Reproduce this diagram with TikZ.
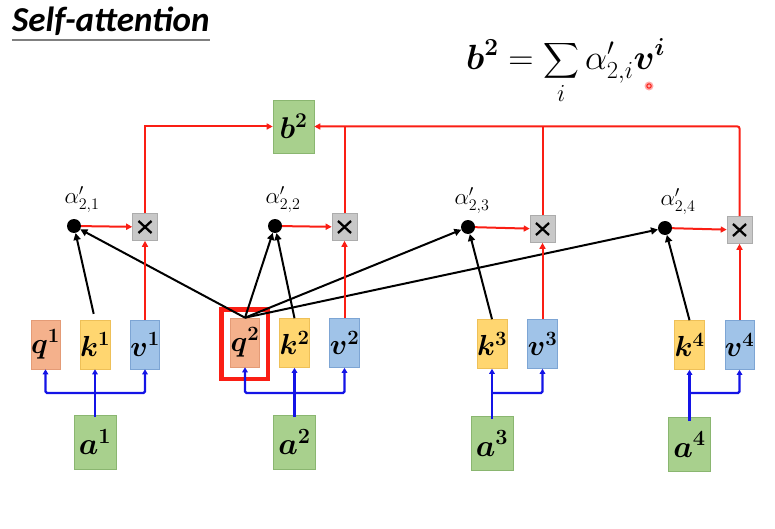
\RequirePackage{fix-cm}
\documentclass[tikz,border=0pt]{standalone}
\usepackage{fontspec}
\usepackage{amsmath,bm}
\usetikzlibrary{arrows.meta,calc}
\newfontfamily\titlefont{Carlito}
\definecolor{qcol}{RGB}{244,177,140}
\definecolor{qbd}{RGB}{228,155,118}
\definecolor{kcol}{RGB}{255,214,112}
\definecolor{kbd}{RGB}{238,192,88}
\definecolor{vcol}{RGB}{160,195,232}
\definecolor{vbd}{RGB}{125,165,212}
\definecolor{gcol}{RGB}{168,208,141}
\definecolor{gbd}{RGB}{138,182,112}
\definecolor{xcol}{RGB}{200,200,200}
\definecolor{xbd}{RGB}{172,172,172}
\definecolor{myred}{RGB}{250,30,20}
\definecolor{myblue}{RGB}{20,20,230}
\definecolor{ulgray}{RGB}{128,128,128}
\definecolor{ptrpink}{RGB}{255,170,170}
\begin{document}
\begin{tikzpicture}[x=1pt,y=-1pt,
  vecbox/.style={rectangle, line width=0.6pt, minimum width=26pt, minimum height=49pt, inner sep=0pt, font=\fontsize{29}{32}\selectfont},
  qbox/.style={vecbox, draw=qbd, fill=qcol},
  kbox/.style={vecbox, draw=kbd, fill=kcol},
  vbox/.style={vecbox, draw=vbd, fill=vcol},
  gbox/.style={rectangle, draw=gbd, fill=gcol, line width=0.6pt, minimum width=42pt, minimum height=54pt, inner sep=0pt, font=\fontsize{31}{34}\selectfont},
  xbox/.style={rectangle, draw=xbd, fill=xcol, line width=0.6pt, minimum width=25pt, minimum height=27pt, inner sep=0pt,
    path picture={
      \draw[black, line width=2.3pt] ([shift={(-6.5pt,-6pt)}]path picture bounding box.center) -- ([shift={(6.5pt,6pt)}]path picture bounding box.center);
      \draw[black, line width=2.3pt] ([shift={(-6.5pt,6pt)}]path picture bounding box.center) -- ([shift={(6.5pt,-6pt)}]path picture bounding box.center);
    }},
  sdot/.style={circle, fill=black, minimum size=14pt, inner sep=0pt},
  alab/.style={anchor=south, inner sep=0pt, font=\fontsize{23}{26}\selectfont},
  redarr/.style={draw=myred, line width=2pt, -{Triangle[length=6pt,width=6pt]}},
  redline/.style={draw=myred, line width=2pt},
  blackarr/.style={draw=black, line width=2pt, -{Triangle[length=7pt,width=7pt]}},
  bluearr/.style={draw=myblue, line width=2.4pt, -{Triangle[length=5pt,width=5.5pt]}},
]
\useasboundingbox (0,0) rectangle (775,529);

% title
\node[anchor=base west, inner sep=0pt, font=\titlefont\bfseries\itshape\fontsize{35}{40}\selectfont] (title) at (12,32) {Self-attention};
\draw[ulgray, line width=1.5pt] ($(title.base west)+(0,8)$) -- ($(title.base east)+(0,8)$);

% formula
\node[anchor=base west, inner sep=0pt, font=\fontsize{35}{40}\selectfont] (eq) at (466,70)
  {$\displaystyle \bm{b}^{\bm{2}} = \sum_{i} \alpha'_{2,i}\bm{v}^{\bm{i}}$};
\fill[ptrpink] (649,86) circle (4.5pt);
\draw[myred, line width=1pt] (649,86) circle (2.2pt);

% b2
\node[gbox, minimum width=41pt, minimum height=53pt, font=\fontsize{30}{34}\selectfont] (b2) at (293.5,126.5) {$\bm{b^2}$};

% highlight box (drawn first)
\node[draw=myred, line width=4.5pt, minimum width=46.5pt, minimum height=69.5pt, inner sep=0pt] (hl) at (244.5,344) {};

% q k v
\node[qbox] (q1) at (45.5,344.5) {$\bm{q^1}$};
\node[kbox] (k1) at (95,344.5) {$\bm{k^1}$};
\node[vbox] (v1) at (145,344.5) {$\bm{v^1}$};
\node[qbox] (q2) at (245,342.5) {$\bm{q^2}$};
\node[kbox] (k2) at (294.5,343) {$\bm{k^2}$};
\node[vbox] (v2) at (344.5,343) {$\bm{v^2}$};
\node[kbox] (k3) at (492,344) {$\bm{k^3}$};
\node[vbox] (v3) at (542.5,344) {$\bm{v^3}$};
\node[kbox] (k4) at (689.5,345) {$\bm{k^4}$};
\node[vbox] (v4) at (739.5,345) {$\bm{v^4}$};

% inputs
\node[gbox] (a1) at (95,442) {$\bm{a^1}$};
\node[gbox] (a2) at (294.5,442) {$\bm{a^2}$};
\node[gbox] (a3) at (492,443.5) {$\bm{a^3}$};
\node[gbox] (a4) at (689.5,444.5) {$\bm{a^4}$};

% dots and multipliers
\node[sdot] (d1) at (74,226) {};
\node[sdot] (d2) at (275,226) {};
\node[sdot] (d3) at (468,227) {};
\node[sdot] (d4) at (665,228) {};
\node[xbox] (x1) at (145,227) {};
\node[xbox] (x2) at (344.5,227) {};
\node[xbox] (x3) at (542.5,229) {};
\node[xbox] (x4) at (739.5,230) {};

\node[alab] (l1) at (82,213) {$\alpha'_{2,1}$};
\node[alab] (l2) at (283,213) {$\alpha'_{2,2}$};
\node[alab] (l3) at (472,214) {$\alpha'_{2,3}$};
\node[alab] (l4) at (678,215) {$\alpha'_{2,4}$};

% blue connectors
\coordinate (h1) at (95,393);
\coordinate (h2) at (294.5,393);
\coordinate (h3) at (492,393);
\coordinate (h4) at (689.5,393);
\draw[bluearr, shorten <=-2pt] (a1.north) -- (k1.south);
\draw[bluearr, rounded corners=1.5pt] (h1) -| (q1.south);
\draw[bluearr, rounded corners=1.5pt] (h1) -| (v1.south);
\draw[bluearr, shorten <=-2pt] (a2.north) -- (k2.south);
\draw[bluearr, rounded corners=1.5pt] (h2) -| (q2.south);
\draw[bluearr, rounded corners=1.5pt] (h2) -| (v2.south);
\draw[bluearr, shorten <=-3pt] (a3.north) -- (k3.south);
\draw[bluearr, rounded corners=1.5pt] (h3) -| (v3.south);
\draw[bluearr, shorten <=-4pt] (a4.north) -- (k4.south);
\draw[bluearr, rounded corners=1.5pt] (h4) -| (v4.south);

% black connectors
\draw[blackarr, shorten <=6pt] (k1.north) -- (d1);
\draw[blackarr] (q2.north) -- (d1);
\draw[blackarr] (q2.north) -- (d2);
\draw[blackarr] (k2.north) -- (d2);
\draw[blackarr] (q2.north) -- (d3);
\draw[blackarr] (k3.north) -- (d3);
\draw[blackarr] (q2.north) -- (d4);
\draw[blackarr] (k4.north) -- (d4);

% red connectors
\draw[redarr] (d1) -- (x1);
\draw[redarr] (d2) -- (x2);
\draw[redarr] (d3) -- (x3);
\draw[redarr] (d4) -- (x4);
\draw[redarr] (v1.north) -- (x1.south);
\draw[redarr] (v2.north) -- (x2.south);
\draw[redarr] (v3.north) -- (x3.south);
\draw[redarr] (v4.north) -- (x4.south);
\draw[redarr] (x1.north) |- (b2.west);
\draw[redarr, rounded corners=2pt] (x4.north) |- (b2.east);
\draw[redline] (x2.north) -- (x2.north |- b2.east);
\draw[redline] (x3.north) -- (x3.north |- b2.east);
\end{tikzpicture}
\end{document}
